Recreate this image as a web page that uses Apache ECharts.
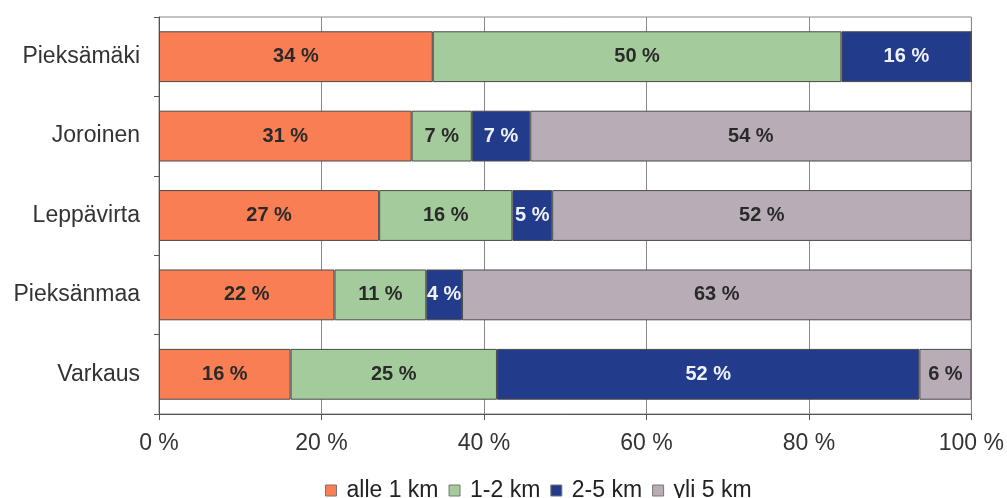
<!DOCTYPE html>
<html>
<head>
<meta charset="utf-8">
<script src="https://cdn.jsdelivr.net/npm/echarts@6/dist/echarts.min.js"></script>
<style>
  html, body { margin: 0; padding: 0; background: #ffffff; }
  #chart { width: 1007px; height: 498px; }
</style>
</head>
<body>
<div id="chart"></div>
<script>
// Municipalities, top to bottom
const categories = ['Pieksämäki', 'Joroinen', 'Leppävirta', 'Pieksänmaa', 'Varkaus'];

// Share of trips by distance class (%)
const alle1km = [33.7, 31.1, 27.1, 21.6, 16.2];
const km1to2  = [50.3, 7.4, 16.4, 11.3, 25.4];
const km2to5  = [16.0, 7.2, 4.9, 4.4, 52.0];
const yli5km  = [0, 54.3, 51.6, 62.7, 6.4];

const seriesNames = ['alle 1 km', '1-2 km', '2-5 km', 'yli 5 km'];
const xTicks = [0, 20, 40, 60, 80, 100];

const colors = ['#F97E54', '#A4CB9B', '#233B8B', '#B8ACB7'];
const labelColors = ['#2a2a2a', '#2a2a2a', '#eef2fb', '#2a2a2a'];
const values = [alle1km, km1to2, km2to5, yli5km];

const chart = echarts.init(document.getElementById('chart'), null, { renderer: 'canvas' });

const series = seriesNames.map((name, i) => ({
  name: name,
  type: 'bar',
  stack: 'total',
  barWidth: '64%',
  data: values[i],
  itemStyle: { color: colors[i], borderColor: '#4a4a4a', borderWidth: 1 },
  label: {
    show: true,
    position: 'inside',
    formatter: p => (p.value > 0 ? Math.round(p.value) + ' %' : ''),
    color: labelColors[i],
    fontFamily: 'Liberation Sans, Arial, sans-serif',
    fontWeight: 'bold',
    fontSize: 20
  },
  emphasis: { disabled: true }
}));

chart.setOption({
  animation: false,
  textStyle: { fontFamily: 'Liberation Sans, Arial, sans-serif' },
  grid: {
    left: 159, right: 35, top: 17, bottom: 84,
    show: true, borderColor: '#888', borderWidth: 1, backgroundColor: 'transparent'
  },
  legend: {
    top: 474,
    left: 320,
    icon: 'rect',
    itemWidth: 11,
    itemHeight: 11,
    itemGap: 10,
    data: seriesNames.map((n, i) => ({
      name: n,
      itemStyle: { color: colors[i], borderColor: '#777', borderWidth: 1 }
    })),
    textStyle: { fontSize: 23, color: '#222', padding: [0, 0, 0, 5] }
  },
  xAxis: {
    type: 'value',
    min: xTicks[0],
    max: xTicks[xTicks.length - 1],
    interval: 20,
    axisLine: { show: true, lineStyle: { color: '#555' } },
    axisTick: { show: true, length: 6, lineStyle: { color: '#555' } },
    axisLabel: { formatter: v => v + ' %', fontSize: 23, color: '#333', margin: 18 },
    splitLine: { show: true, lineStyle: { color: '#888', width: 1 } }
  },
  yAxis: {
    type: 'category',
    inverse: true,
    data: categories,
    axisLine: { show: true, lineStyle: { color: '#555' } },
    axisTick: { show: true, length: 5, lineStyle: { color: '#555' } },
    axisLabel: { fontSize: 23, color: '#333', margin: 19 }
  },
  series: series
});
</script>
</body>
</html>
